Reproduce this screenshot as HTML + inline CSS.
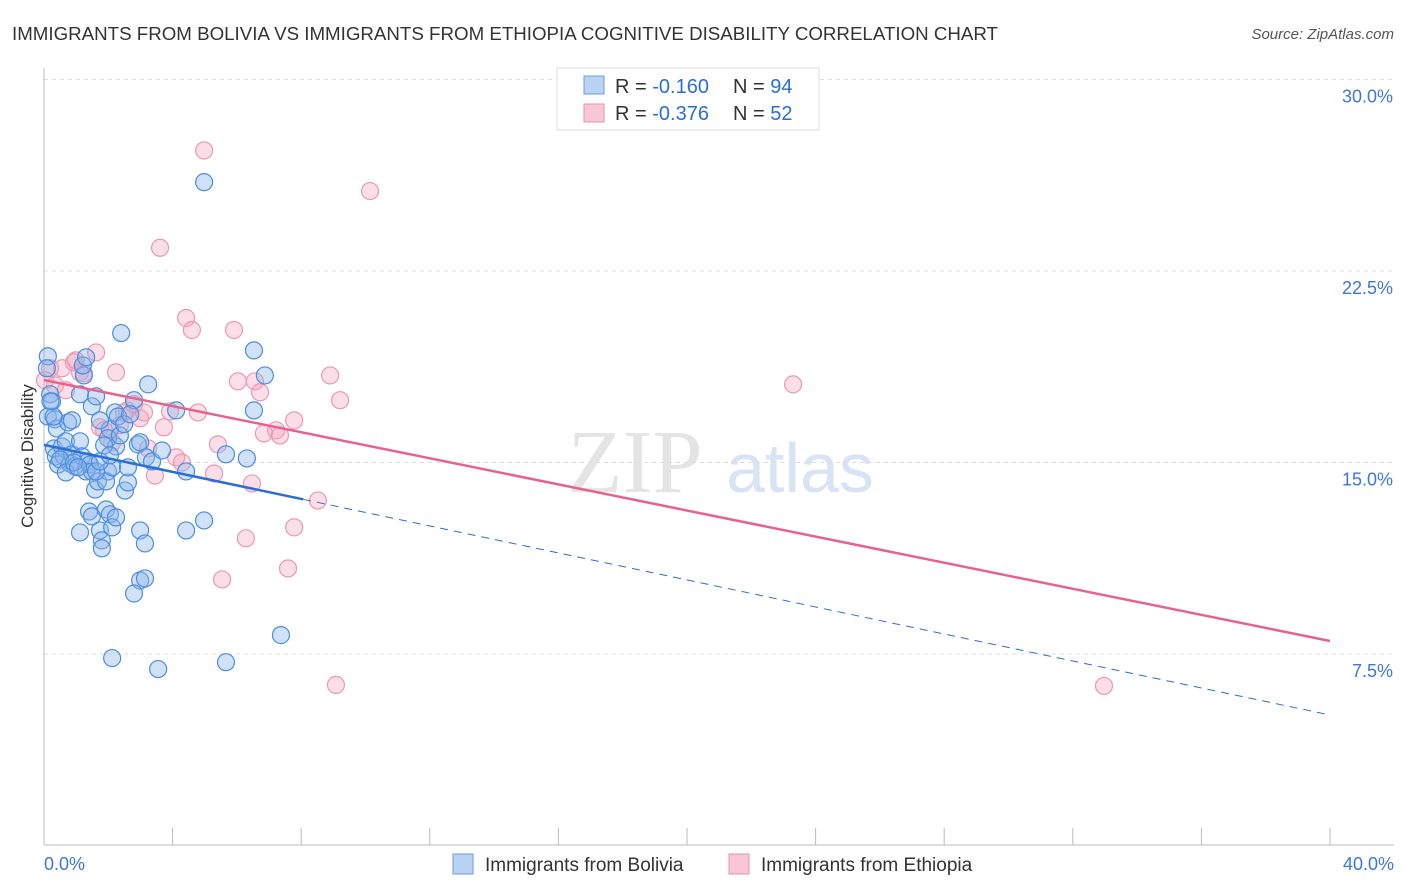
<!DOCTYPE html>
<html><head><meta charset="utf-8"><style>
body{margin:0;background:#fff;font-family:"Liberation Sans",sans-serif}
svg{display:block}
</style></head><body>
<svg id="c" width="1406" height="892" xmlns="http://www.w3.org/2000/svg">
<text x="12" y="40" font-size="18" fill="#333" textLength="986" lengthAdjust="spacingAndGlyphs">IMMIGRANTS FROM BOLIVIA VS IMMIGRANTS FROM ETHIOPIA COGNITIVE DISABILITY CORRELATION CHART</text>
<text x="1394" y="39" font-size="15" fill="#555" text-anchor="end" font-style="italic">Source: ZipAtlas.com</text>
<text x="33" y="456" font-size="17" fill="#333" text-anchor="middle" transform="rotate(-90 33 456)">Cognitive Disability</text>
<g><text x="635" y="492" font-size="90" fill="#e4e4e4" text-anchor="middle" font-family="Liberation Serif,serif">ZIP</text><text x="800" y="492" font-size="70" fill="#d6e4f5" text-anchor="middle">atlas</text></g>
<g id="grid"></g><g id="axes"></g><g id="pts"></g><g id="lines"></g>
<g>
<rect x="557" y="68" width="262" height="62" fill="#fff" stroke="#ddd"/>
<rect x="584" y="76" width="20" height="18" fill="#b9d3f5" stroke="#6a9be0"/>
<text x="615" y="93" font-size="20" fill="#333">R = <tspan fill="#2a6fd6">-0.160</tspan></text>
<text x="733" y="93" font-size="20" fill="#333">N = <tspan fill="#2a6fd6">94</tspan></text>
<rect x="584" y="104" width="20" height="18" fill="#f9c6d5" stroke="#e890ab"/>
<text x="615" y="120" font-size="20" fill="#333">R = <tspan fill="#2a6fd6">-0.376</tspan></text>
<text x="733" y="120" font-size="20" fill="#333">N = <tspan fill="#2a6fd6">52</tspan></text>
</g>
<g>
<rect x="453" y="854" width="20" height="20" fill="#b9d3f5" stroke="#6a9be0"/>
<text x="485" y="871" font-size="19" fill="#333">Immigrants from Bolivia</text>
<rect x="729" y="854" width="20" height="20" fill="#f9c6d5" stroke="#e890ab"/>
<text x="761" y="871" font-size="19" fill="#333">Immigrants from Ethiopia</text>
</g>
</svg>
<script>
const yTicks=[7.5,15,22.5,30];
const yTickLabels=["7.5%","15.0%","22.5%","30.0%"];
const xTickLabels=["0.0%","40.0%"];
const blueX=[0.12,0.09,0.19,0.25,0.12,0.34,0.40,0.31,0.37,0.44,0.56,0.68,0.62,0.81,0.87,0.96,0.75,0.87,1.12,1.24,1.21,1.31,1.49,1.62,1.12,1.18,1.37,1.31,1.43,1.49,1.59,1.68,1.40,1.49,1.12,1.74,1.80,1.80,1.93,2.05,2.12,1.99,1.93,2.12,2.24,2.05,1.99,2.21,2.30,2.40,2.36,2.24,2.52,2.61,2.61,2.80,2.92,2.99,3.14,2.99,3.14,2.80,2.99,3.17,3.24,3.36,3.67,4.11,4.42,4.42,4.98,4.98,5.66,5.66,2.12,3.55,6.31,6.53,6.53,6.87,7.37,2.49,2.68,1.74,1.87,0.50,0.68,0.93,1.06,1.62,1.74,2.05,0.30,0.20];
const blueY=[19.16,18.69,17.67,17.39,16.80,16.69,16.33,15.55,15.24,14.92,15.63,15.83,15.24,14.96,15.32,14.85,16.57,16.65,17.67,18.41,18.80,19.12,17.20,17.59,15.83,15.24,15.04,14.65,14.92,14.65,13.94,14.26,13.08,12.89,12.26,12.34,11.95,11.64,13.16,12.97,12.46,14.65,14.26,14.81,15.63,16.30,15.95,16.96,16.80,20.07,16.06,12.85,13.90,14.22,14.81,17.44,15.71,12.34,11.83,10.38,10.46,9.87,15.79,15.20,18.06,15.04,15.47,17.04,12.34,14.65,12.73,25.98,15.32,7.18,7.34,6.91,15.16,19.39,17.04,18.41,8.24,16.50,16.89,16.65,15.67,15.12,14.61,15.00,14.81,14.65,15.04,15.28,16.80,17.40];
const pinkX=[0.03,0.19,0.34,0.56,0.68,0.93,0.99,1.12,1.24,1.62,1.74,1.87,2.12,2.24,2.36,2.49,2.58,2.80,2.99,3.11,3.24,3.45,3.61,3.73,3.92,4.11,4.29,4.42,4.60,4.79,4.98,5.29,5.41,5.54,5.91,6.03,6.28,6.47,6.56,6.72,6.84,7.22,7.34,7.59,7.78,7.78,8.52,8.90,9.08,9.21,10.14,23.30,32.97];
const pinkY=[18.22,18.69,18.02,18.69,17.83,18.92,19.00,18.53,18.49,19.31,16.38,16.26,15.79,18.53,16.46,16.96,17.04,17.28,16.73,16.96,15.55,14.49,23.41,16.38,17.00,15.20,15.00,20.66,20.19,16.96,27.22,14.57,15.71,10.42,20.19,18.18,12.03,14.18,18.18,17.75,16.14,16.26,16.06,10.85,16.65,12.46,13.51,18.41,6.29,17.44,25.63,18.06,6.25];
const blueTrend=[15.69,5.11];const pinkTrend=[18.23,8.01];const blueSolidEnd=8.06;
const X=v=>44+v/40*1286, Y=v=>845.5-v/7.5*191.5;
const NS="http://www.w3.org/2000/svg";
function mk(p,t,a){const e=document.createElementNS(NS,t);for(const k in a)e.setAttribute(k,a[k]);p.appendChild(e);return e;}
const grid=document.getElementById('grid'),axes=document.getElementById('axes'),pts=document.getElementById('pts'),lines=document.getElementById('lines');
yTicks.forEach((t,i)=>{
 const g=mk(grid,'line',{x1:44,x2:1394,y1:Y(t),y2:Y(t),stroke:'#ddd','stroke-dasharray':'4,4'});
 
 
 const l=mk(axes,'text',{x:1393,y:Y(t)+23,'font-size':18,fill:'#3b78d8','text-anchor':'end'});l.textContent=yTickLabels[i];
 
 
});
mk(axes,'line',{x1:44,x2:44,y1:68,y2:845,stroke:'#bbb'});
mk(axes,'line',{x1:44,x2:1394,y1:845,y2:845,stroke:'#bbb'});
for(let i=0;i<=10;i++){mk(axes,'line',{x1:X(i*4),x2:X(i*4),y1:828,y2:845,stroke:'#bbb'});}
[[0,44,'start'],[40,1394,'end']].forEach((d,i)=>{const t=mk(axes,'text',{x:d[1],y:870,'font-size':18,fill:'#3b78d8','text-anchor':d[2]});t.textContent=xTickLabels[i];
 
 });
pinkX.forEach((x,i)=>{const c=mk(pts,'circle',{cx:X(x),cy:Y(pinkY[i]),r:8.5,fill:'rgba(244,160,186,0.35)',stroke:'#ec98b3','stroke-width':1.2});
 
 });
blueX.forEach((x,i)=>{const c=mk(pts,'circle',{cx:X(x),cy:Y(blueY[i]),r:8.5,fill:'rgba(140,180,235,0.4)',stroke:'#4a8ee0','stroke-width':1.2});
 
 });
const by=x=>blueTrend[0]+(blueTrend[1]-blueTrend[0])*x/40;
const l1=mk(lines,'line',{x1:X(0),y1:Y(by(0)),x2:X(blueSolidEnd),y2:Y(by(blueSolidEnd)),stroke:'#2a6fd6','stroke-width':2.5});


const l2=mk(lines,'line',{x1:X(blueSolidEnd),y1:Y(by(blueSolidEnd)),x2:X(40),y2:Y(by(40)),stroke:'#2a6fd6','stroke-width':1,'stroke-dasharray':'8,6'});


const l3=mk(lines,'line',{x1:X(0),y1:Y(pinkTrend[0]),x2:X(40),y2:Y(pinkTrend[1]),stroke:'#e8628e','stroke-width':2.5});


</script>
</body></html>
